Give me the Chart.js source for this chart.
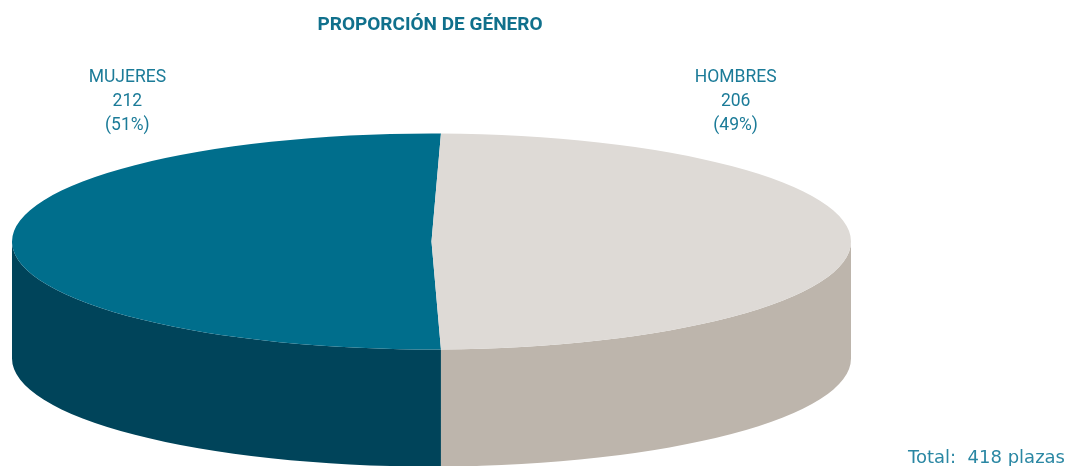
<!DOCTYPE html>
<html>
<head>
<meta charset="utf-8">
<script src="https://cdn.jsdelivr.net/npm/chart.js@4.4.1/dist/chart.umd.min.js"></script>
<style>
  html, body { margin: 0; padding: 0; background: #ffffff; }
  #wrap { width: 1067px; height: 466px; position: relative; overflow: hidden; }
  canvas { display: block; }
</style>
</head>
<body>
<div id="wrap"><canvas id="genero" width="1067" height="466"></canvas></div>
<script>
// Plazas por género
const categories = ['MUJERES', 'HOMBRES'];
const plazas = [212, 206];
const topColors = ['#006e8c', '#dedad6'];
const sideColors = ['#00445a', '#bdb5ac'];
const chartTitle = 'PROPORCIÓN DE GÉNERO';

const total = plazas.reduce((a, b) => a + b, 0);
const totalText = 'Total:  ' + total + ' plazas';

// Disc geometry on screen (top ellipse + extruded wall)
const DISC = { cx: 431.5, cy: 241.5, rx: 419.5, ry: 108, depth: 117 };

// share the first slice's excess over a half turn evenly between both seams
const firstSweep = plazas[0] / total * 360;
const splitOffset = (firstSweep - 180) / 2;

const disc3d = {
  id: 'disc3d',
  beforeDatasetsDraw(chart) {
    const ctx = chart.ctx;
    const arcs = chart.getDatasetMeta(0).data;
    ctx.save();
    // side wall: only the front half (angles 0..PI) is visible
    arcs.forEach((arc, i) => {
      const { startAngle, endAngle } = arc.getProps(['startAngle', 'endAngle'], true);
      for (let k = -2; k <= 4; k += 2) {
        const lo = Math.max(startAngle, k * Math.PI);
        const hi = Math.min(endAngle, (k + 1) * Math.PI);
        if (hi <= lo) continue;
        const { cx, cy, rx, ry, depth } = DISC;
        ctx.beginPath();
        ctx.ellipse(cx, cy, rx, ry, 0, lo, hi, false);
        ctx.lineTo(cx + rx * Math.cos(hi), cy + ry * Math.sin(hi) + depth);
        ctx.ellipse(cx, cy + depth, rx, ry, 0, hi, lo, true);
        ctx.closePath();
        ctx.fillStyle = sideColors[i];
        ctx.fill();
      }
    });
    // squash the pie into the top ellipse
    const { x, y, outerRadius } = arcs[0].getProps(['x', 'y', 'outerRadius'], true);
    ctx.translate(DISC.cx, DISC.cy);
    ctx.scale(DISC.rx / outerRadius, DISC.ry / outerRadius);
    ctx.translate(-x, -y);
  },
  afterDatasetsDraw(chart) {
    chart.ctx.restore();
  }
};

const labelsPlugin = {
  id: 'discLabels',
  afterDraw(chart) {
    const ctx = chart.ctx;
    const arcs = chart.getDatasetMeta(0).data;
    ctx.save();
    // title
    ctx.fillStyle = '#10708c';
    ctx.font = 'bold 19px Roboto, "Liberation Sans", sans-serif';
    ctx.textAlign = 'center';
    ctx.textBaseline = 'middle';
    ctx.fillText(chartTitle, 430, 25);

    // slice labels
    ctx.fillStyle = '#1b7b98';
    ctx.font = '17.5px Roboto, "Liberation Sans", sans-serif';
    arcs.forEach((arc, i) => {
      const { startAngle, endAngle } = arc.getProps(['startAngle', 'endAngle'], true);
      const mid = (startAngle + endAngle) / 2;
      const lx = DISC.cx + Math.cos(mid) * DISC.rx * 0.725;
      const pct = Math.round(plazas[i] / total * 100);
      ctx.fillText(categories[i], lx, 78);
      ctx.fillText(String(plazas[i]), lx, 102);
      ctx.fillText('(' + pct + '%)', lx, 126);
    });

    // total
    ctx.fillStyle = '#2a87a3';
    ctx.font = '18px "DejaVu Sans", Verdana, sans-serif';
    ctx.textAlign = 'right';
    ctx.textBaseline = 'alphabetic';
    ctx.fillText(totalText, 1065, 463);
    ctx.restore();
  }
};

new Chart(document.getElementById('genero'), {
  type: 'pie',
  data: {
    labels: categories,
    datasets: [{
      data: plazas,
      backgroundColor: topColors,
      borderWidth: 0,
      clip: false
    }]
  },
  options: {
    responsive: false,
    devicePixelRatio: 1,
    animation: false,
    events: [],
    rotation: 180 - splitOffset,
    layout: { padding: 0 },
    plugins: {
      legend: { display: false },
      tooltip: { enabled: false },
      title: { display: false }
    }
  },
  plugins: [disc3d, labelsPlugin]
});
</script>
</body>
</html>
